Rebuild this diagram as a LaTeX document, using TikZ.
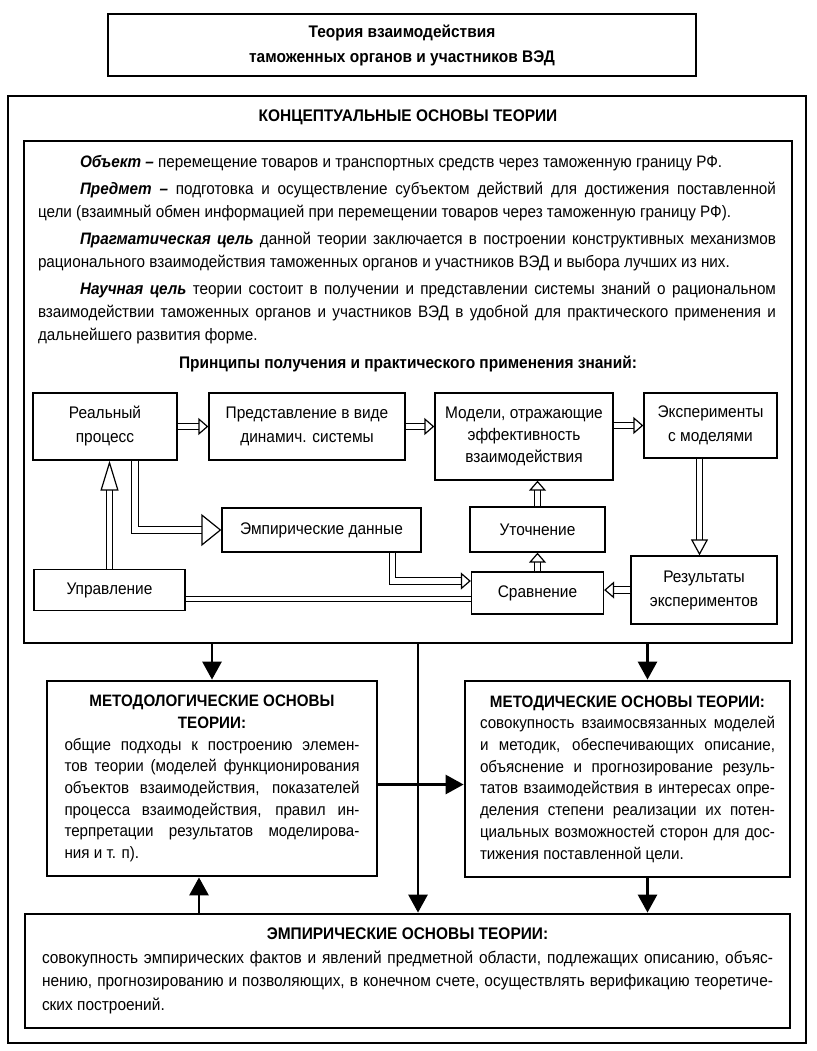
\documentclass[tikz,border=0pt]{standalone}
\usepackage{fontspec}
\setmainfont{Liberation Sans}[FakeStretch=0.92]
\usetikzlibrary{arrows.meta,positioning,calc}
\tikzset{
  base/.style={font=\fontsize{16.6}{23}\selectfont, align=center, inner sep=0pt, text=black},
  frame/.style={rectangle, draw=black, line width=2.8pt},
  box/.style={base, rectangle, draw=black, line width=1.3pt, font=\fontsize{16.8}{24}\selectfont},
  hdr/.style={base, font=\fontsize{16.8}{25}\selectfont\bfseries},
  txt/.style={base, align=justify, font=\fontsize{16.5}{21.7}\selectfont},
  hol/.style={double=white, double distance=5.5pt, line width=1.2pt, -{Triangle[open,length=10pt,width=17pt]}},
  holbig/.style={hol, -{Triangle[open,length=20pt,width=32pt]}},
  dbl/.style={double=white, double distance=4pt, line width=1.2pt},
  arr/.style={line width=2.8pt, -{Triangle[length=18pt,width=19pt]}},
}
\newcommand{\ind}{\hspace*{42pt}}
\newcommand{\term}[1]{\textbf{\textit{#1}}}

\begin{document}
\begin{tikzpicture}[x=1pt,y=-1pt]
  \useasboundingbox (0,0) rectangle (816,1051);
  % title and outer frame
  \node[frame,hdr,minimum width=588pt,minimum height=62pt] (title) at (402,45) {Теория взаимодействия\\таможенных органов и участников ВЭД};
  \node[frame,minimum width=798pt,minimum height=947pt] (outer) at (407,569.5) {};
  \node[hdr] (conhead) at (408,117) {КОНЦЕПТУАЛЬНЫЕ ОСНОВЫ ТЕОРИИ};
  \node[frame,minimum width=768pt,minimum height=502pt] (concept) at (408,392) {};
  \node[base,align=justify,text width=738pt,anchor=north] (paras) at (407,155) {%
    \ind\term{Объект –} перемещение товаров и транспортных средств через таможенную границу РФ.\par\vspace{4pt}
    \ind\term{Предмет –} подготовка и осуществление субъектом действий для достижения поставленной\linebreak
    цели (взаимный обмен информацией при перемещении товаров через таможенную границу РФ).\par\vspace{4pt}
    \ind\term{Прагматическая цель} данной теории заключается в построении конструктивных механизмов\linebreak
    рационального взаимодействия таможенных органов и участников ВЭД и выбора лучших из них.\par\vspace{4pt}
    \ind\term{Научная цель} теории состоит в получении и представлении системы знаний о рациональном\linebreak
    взаимодействии таможенных органов и участников ВЭД в удобной для практического применения и\linebreak
    дальнейшего развития форме.};
  \node[hdr] (princ) at (408,364) {Принципы получения и практического применения знаний:};

  % flow of principles
  \node[box,minimum width=144pt,minimum height=67pt] (real) at (105,426.5) {Реальный\\процесс};
  \node[box,minimum width=196pt,minimum height=67pt] (repr) at (307,426.5) {Представление в виде\\динамич. системы};
  \node[box,minimum width=178pt,minimum height=87pt,font=\fontsize{16.8}{22}\selectfont] (model) at (524,436.5) {Модели, отражающие\\эффективность\\взаимодействия};
  \node[box,minimum width=133pt,minimum height=65pt] (exper) at (710.5,425.5) {Эксперименты\\с моделями};
  \node[box,minimum width=199pt,minimum height=44pt] (empir) at (321.5,530) {Эмпирические данные};
  \node[box,minimum width=135pt,minimum height=45pt] (utoch) at (537.5,529.5) {Уточнение};
  \node[box,minimum width=151pt,minimum height=41pt] (upr) at (109.5,590) {Управление};
  \node[box,minimum width=132pt,minimum height=42pt] (sravn) at (537.5,593) {Сравнение};
  \node[box,minimum width=146pt,minimum height=68pt] (result) at (704,590) {Результаты\\экспериментов};

  \draw[hol] (real) -- (repr);
  \draw[hol] (repr.east) -- (repr.east -| model.west);
  \draw[hol] (exper.west -| model.east) -- (exper.west);
  \draw[hol, -{Triangle[open,length=16pt,width=17pt]}] ([xshift=-11pt]exper.south) -- ([xshift=-11pt]exper.south |- result.north);
  \draw[hol] (utoch.north) -- (utoch.north |- model.south);
  \draw[hol] (sravn) -- (utoch);
  \draw[hol] (result.west) -- (result.west -| sravn.east);
  \draw[hol, -{Triangle[open,length=30pt,width=18pt]}] (upr.north) -- (upr.north |- real.south);
  \draw[holbig] ([xshift=30pt]real.south) |- (empir.west);
  \draw[hol] ([xshift=71pt]empir.south) |- ([yshift=12pt]sravn.west);
  \draw[dbl] ([yshift=-9pt]upr.east) -- ([yshift=-9pt]upr.east -| sravn.west);

  % lower blocks
  \node[frame,txt,text width=295pt,minimum width=330pt,minimum height=195pt] (lbox) at (212,778.5) {%
    {\centering\bfseries МЕТОДОЛОГИЧЕСКИЕ ОСНОВЫ\\ТЕОРИИ:\par}
    общие подходы к построению элемен-\linebreak
    тов теории (моделей функционирования\linebreak
    объектов взаимодействия, показателей\linebreak
    процесса взаимодействия, правил ин-\linebreak
    терпретации результатов моделирова-\linebreak
    ния и т. п).};
  \node[frame,txt,text width=295pt,minimum width=325pt,minimum height=196pt] (rbox) at (627.5,779) {%
    {\centering\bfseries МЕТОДИЧЕСКИЕ ОСНОВЫ ТЕОРИИ:\par}
    совокупность взаимосвязанных моделей\linebreak
    и методик, обеспечивающих описание,\linebreak
    объяснение и прогнозирование резуль-\linebreak
    татов взаимодействия в интересах опре-\linebreak
    деления степени реализации их потен-\linebreak
    циальных возможностей сторон для дос-\linebreak
    тижения поставленной цели.};
  \node[frame,txt,text width=731pt,minimum width=765pt,minimum height=114pt,font=\fontsize{16.8}{23.5}\selectfont] (bbox) at (407.5,971) {%
    {\centering\bfseries ЭМПИРИЧЕСКИЕ ОСНОВЫ ТЕОРИИ:\par}
    совокупность эмпирических фактов и явлений предметной области, подлежащих описанию, объяс-\linebreak
    нению, прогнозированию и позволяющих, в конечном счете, осуществлять верификацию теоретиче-\linebreak
    ских построений.};

  \draw[arr] (lbox.north |- concept.south) -- (lbox.north);
  \draw[arr] ([xshift=20pt]rbox.north |- concept.south) -- ([xshift=20pt]rbox.north);
  \draw[arr] ([xshift=10pt]concept.south) -- ([xshift=10pt]concept.south |- bbox.north);
  \draw[arr] ([yshift=-6pt]lbox.east) -- ([yshift=-6pt]lbox.east -| rbox.west);
  \draw[arr] ([xshift=20pt]rbox.south) -- ([xshift=20pt]rbox.south |- bbox.north);
  \draw[arr] ([xshift=-13pt]lbox.south |- bbox.north) -- ([xshift=-13pt]lbox.south);
\end{tikzpicture}
\end{document}
